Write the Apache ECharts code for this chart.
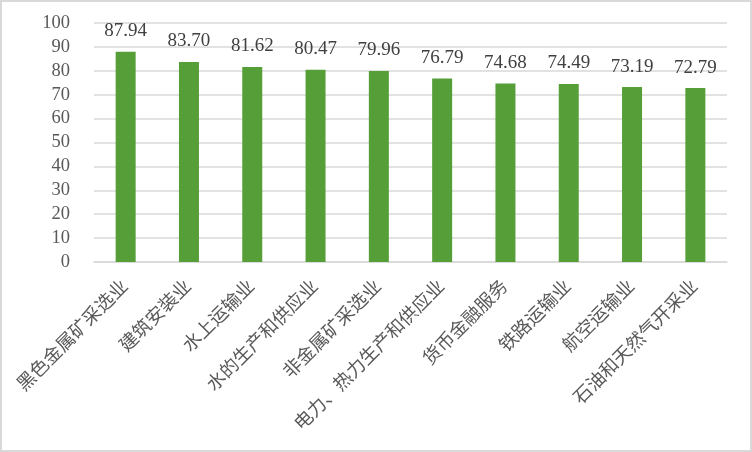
<!DOCTYPE html>
<html><head><meta charset="utf-8">
<script src="https://cdn.jsdelivr.net/npm/echarts@6/dist/echarts.min.js"></script>
<style>
html,body{margin:0;padding:0;background:#fff;}
#c{width:752px;height:452px;box-sizing:border-box;border:2px solid #d9d9d9;}
</style></head>
<body><div id="c"></div>
<script>
const categories = ['黑色金属矿采选业','建筑安装业','水上运输业','水的生产和供应业','非金属矿采选业','电力、热力生产和供应业','货币金融服务','铁路运输业','航空运输业','石油和天然气开采业'];
const values = [87.94, 83.70, 81.62, 80.47, 79.96, 76.79, 74.68, 74.49, 73.19, 72.79];
const yMin = 0, yMax = 100, yStep = 10;

const chart = echarts.init(document.getElementById('c'), null, {renderer:'canvas'});
chart.setOption({
  animation: false,
  grid: {left: 92, right: 23, top: 21, bottom: 188, containLabel: false},
  xAxis: {
    type: 'category', data: categories,
    axisLine: {lineStyle: {color: '#d9d9d9', width: 1.5}},
    axisTick: {show: false},
    axisLabel: {rotate: 45, interval: 0, color: '#595959', fontSize: 18.5, margin: 22,
      fontFamily: "'Liberation Serif','Noto Sans CJK SC'"}
  },
  yAxis: {
    type: 'value', min: yMin, max: yMax, interval: yStep,
    axisLine: {show: false}, axisTick: {show: false},
    splitLine: {lineStyle: {color: '#d9d9d9', width: 1.5}},
    axisLabel: {color: '#595959', fontSize: 18.5, margin: 24,
      fontFamily: "'Liberation Serif','Noto Sans CJK SC'"}
  },
  series: [{
    type: 'bar', data: values, barWidth: 20,
    itemStyle: {color: '#559e38'},
    label: {show: true, position: 'top', distance: 11, color: '#404040', fontSize: 19,
      fontFamily: "'Liberation Serif','Noto Sans CJK SC'",
      formatter: p => p.value.toFixed(2)}
  }]
});
</script></body></html>
